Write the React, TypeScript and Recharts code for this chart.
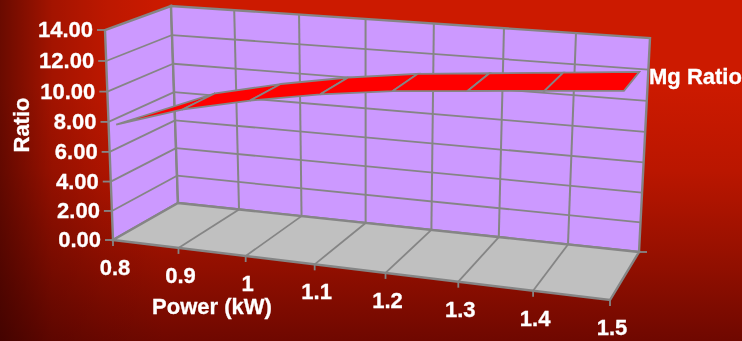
import { ComposedChart, Customized, Line, XAxis, YAxis } from "recharts";

const powerValues = [0.8, 0.9, 1, 1.1, 1.2, 1.3, 1.4, 1.5];
const mgRatioValues = [7.6, 9.0, 10.0, 10.8, 11.4, 11.8, 12.2, 12.6];
const ratioTicks = [0, 2, 4, 6, 8, 10, 12, 14];
const seriesName = "Mg Ratio";

const chartData = powerValues.map((power, i) => ({ power, ratio: mgRatioValues[i] }));

const W = 742;
const H = 341;
const GREY = "#858585";
const FONT = "'Liberation Sans', Arial, sans-serif";
const FONT_SIZE = 22;

type Pt = [number, number];

// unit square -> quad (p00, p10, p11, p01)
function quadMap(p0: Pt, p1: Pt, p2: Pt, p3: Pt) {
    const sx = p0[0] - p1[0] + p2[0] - p3[0];
    const sy = p0[1] - p1[1] + p2[1] - p3[1];
    const dx1 = p1[0] - p2[0];
    const dx2 = p3[0] - p2[0];
    const dy1 = p1[1] - p2[1];
    const dy2 = p3[1] - p2[1];
    const den = dx1 * dy2 - dx2 * dy1;
    const g = (sx * dy2 - dx2 * sy) / den;
    const h = (dx1 * sy - sx * dy1) / den;
    return (u: number, v: number): Pt => {
        const d = g * u + h * v + 1;
        return [
            ((p1[0] - p0[0] + g * p1[0]) * u + (p3[0] - p0[0] + h * p3[0]) * v + p0[0]) / d,
            ((p1[1] - p0[1] + g * p1[1]) * u + (p3[1] - p0[1] + h * p3[1]) * v + p0[1]) / d,
        ];
    };
}

// the 3D box: back face and front face, depth 0 = back, 1 = front
const backFace = quadMap([178, 203], [639, 252], [650, 38], [171, 6]);
const frontFace = quadMap([113, 240], [610, 300], [622, 71], [105, 30]);
const RIBBON_BACK = 0.34;
const RIBBON_FRONT = 0.886;

function project(u: number, v: number, depth: number): Pt {
    const b = backFace(u, v);
    const f = frontFace(u, v);
    return [b[0] + (f[0] - b[0]) * depth, b[1] + (f[1] - b[1]) * depth];
}

const toPoints = (pts: Pt[]) => pts.map((p) => p.join(",")).join(" ");
const uOf = (x: number) => x / W;
const vOf = (y: number) => 1 - y / H;

const seg = (a: Pt, b: Pt, key: string, width = 1.8) => (
    <line key={key} x1={a[0]} y1={a[1]} x2={b[0]} y2={b[1]} stroke={GREY} strokeWidth={width} />
);

const labelStyle = {
    fill: "#fff",
    stroke: "#fff",
    strokeWidth: 0.3,
    fontFamily: FONT,
    fontWeight: "bold",
    fontSize: FONT_SIZE,
};

function WallsAndFloor() {
    const xFracs = powerValues.map((p) => (p - 0.8) / 0.7);
    const yFracs = ratioTicks.map((t) => t / 14);
    return (
        <g>
            <polygon
                points={toPoints([project(0, 0, 1), project(0, 0, 0), project(0, 1, 0), project(0, 1, 1)])}
                fill="#cc99ff"
                stroke={GREY}
                strokeWidth={2.4}
            />
            <polygon
                points={toPoints([project(0, 0, 0), project(1, 0, 0), project(1, 1, 0), project(0, 1, 0)])}
                fill="#cc99ff"
                stroke={GREY}
                strokeWidth={2.4}
            />
            <polygon
                points={toPoints([project(0, 0, 1), project(1, 0, 1), project(1, 0, 0), project(0, 0, 0)])}
                fill="#c0c0c0"
                stroke={GREY}
                strokeWidth={2.4}
            />
            {yFracs.slice(1, -1).map((v, i) => (
                <g key={`h${i}`}>
                    {seg(project(0, v, 1), project(0, v, 0), "l")}
                    {seg(project(0, v, 0), project(1, v, 0), "b")}
                </g>
            ))}
            {xFracs.slice(1, -1).map((u, i) => (
                <g key={`v${i}`}>
                    {seg(project(u, 0, 0), project(u, 1, 0), "b", 2)}
                    {seg(project(u, 0, 1), project(u, 0, 0), "f")}
                </g>
            ))}
            {seg(project(1, 0, 0), [project(1, 0, 0)[0] + 8, project(1, 0, 0)[1]], "corner")}
            <text x={212} y={314} textAnchor="middle" {...labelStyle}>
                Power (kW)
            </text>
            <text transform="translate(29,125) rotate(-90)" textAnchor="middle" {...labelStyle}>
                Ratio
            </text>
        </g>
    );
}

function PowerTick(props: any) {
    const p = project(uOf(props.x), 0, 1);
    return (
        <g>
            {seg(p, [p[0], p[1] + 6], "t")}
            <text x={p[0] + 2} y={p[1] + 35} textAnchor="middle" {...labelStyle}>
                {props.payload.value}
            </text>
        </g>
    );
}

function RatioTick(props: any) {
    const p = project(0, vOf(props.payload.coordinate), 1);
    return (
        <g>
            {seg(p, [p[0] - 8, p[1]], "t")}
            <text x={p[0] - 12} y={p[1] + 7} textAnchor="end" {...labelStyle}>
                {Number(props.payload.value).toFixed(2)}
            </text>
        </g>
    );
}

// each dot draws the ribbon piece from the previous point to this one
function RibbonPiece(props: any) {
    const { index, points, cx, cy } = props;
    const u = uOf(cx);
    const v = vOf(cy);
    const last = index === powerValues.length - 1;
    const back = project(u, v, RIBBON_BACK);
    const front = project(u, v, RIBBON_FRONT);
    let piece = null;
    if (index > 0) {
        const prev = points[index - 1];
        const pu = uOf(prev.x);
        const pv = vOf(prev.y);
        const prevFront = project(pu, pv, RIBBON_FRONT);
        const prevBack = index === 1 ? prevFront : project(pu, pv, RIBBON_BACK);
        piece = (
            <polygon
                points={toPoints([prevBack, back, front, prevFront])}
                fill="#ff0000"
                stroke={GREY}
                strokeWidth={1.8}
            />
        );
    }
    return (
        <g key={`piece-${index}`}>
            {piece}
            {last && (
                <text x={649} y={84} {...labelStyle}>
                    {seriesName}
                </text>
            )}
        </g>
    );
}

export default function App() {
    return (
        <div
            style={{
                position: "fixed",
                left: 0,
                top: 0,
                width: W,
                height: H,
                overflow: "hidden",
                background:
                    "linear-gradient(90deg, rgba(40,0,0,0.6) 0%, rgba(40,0,0,0.45) 3%, rgba(40,0,0,0.25) 7%, rgba(40,0,0,0.1) 14%, rgba(0,0,0,0) 22%), linear-gradient(180deg, #cc1a00 0%, #cc1a00 25%, #ba1600 50%, #961000 75%, #6f0800 100%)",
            }}
        >
            <div style={{ filter: "blur(0.45px)" }}>
                <ComposedChart width={W} height={H} data={chartData} margin={{ top: 0, right: 0, bottom: -1, left: -1 }}>
                    <XAxis
                        dataKey="power"
                        type="number"
                        domain={[0.8, 1.5]}
                        ticks={powerValues}
                        interval={0}
                        height={1}
                        axisLine={false}
                        tickLine={false}
                        tick={PowerTick}
                    />
                    <YAxis
                        type="number"
                        domain={[0, 14]}
                        ticks={ratioTicks}
                        interval={0}
                        width={1}
                        axisLine={false}
                        tickLine={false}
                        tick={RatioTick}
                    />
                    <Customized component={WallsAndFloor} />
                    <Line
                        dataKey="ratio"
                        name={seriesName}
                        stroke="none"
                        dot={RibbonPiece}
                        activeDot={false}
                        isAnimationActive={false}
                    />
                </ComposedChart>
            </div>
        </div>
    );
}
